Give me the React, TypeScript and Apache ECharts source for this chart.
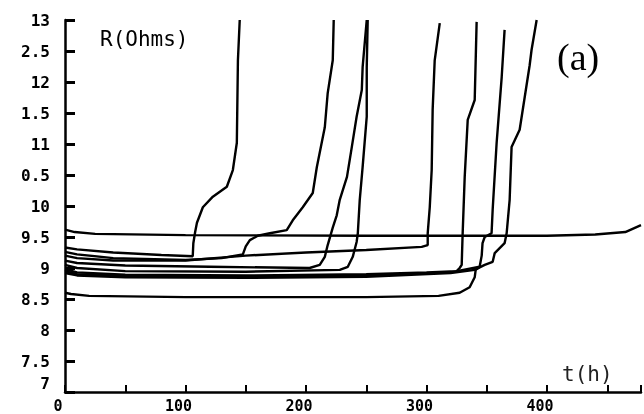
import React, { useEffect, useRef } from "react";
import * as echarts from "echarts";

// Tick values and the labels as printed in the figure (leading digits clipped in the original)
const yTickValues = [7, 7.5, 8, 8.5, 9, 9.5, 10, 10.5, 11, 11.5, 12, 12.5, 13];
const yTickLabels = ["7", "7.5", "8", "8.5", "9", "9.5", "10", "0.5", "11", "1.5", "12", "2.5", "13"];
const xTickLabels = ["0", "100", "200", "300", "400"];

// Resistance R (Ohms) vs time t (h), traced curves: [t, R]
const curveH = [[0, 9.62], [8, 9.58], [25, 9.55], [100, 9.53], [250, 9.52], [400, 9.52], [440, 9.54], [465, 9.58], [478, 9.69]];
const curveA = [[0, 9.33], [10, 9.3], [40, 9.25], [80, 9.21], [106, 9.19], [106.5, 9.4], [108, 9.58], [109.5, 9.73], [114.4, 9.98], [122.7, 10.15], [134.3, 10.31], [139.3, 10.58], [142.6, 11.02], [143.5, 12.35], [145, 13]];
const curveB = [[0, 9.26], [10, 9.22], [40, 9.16], [100, 9.13], [130, 9.16], [147.6, 9.22], [150, 9.35], [153.4, 9.45], [160, 9.52], [170, 9.56], [184, 9.61], [189, 9.77], [197.3, 9.98], [205.6, 10.21], [209, 10.63], [215.6, 11.27], [218, 11.82], [222.2, 12.35], [223, 13]];
const curveC1 = [[0, 9.12], [10, 9.08], [50, 9.04], [120, 9.02], [203, 9.0], [211.4, 9.05], [215.6, 9.18], [218, 9.37], [222.2, 9.65], [225.5, 9.85], [228, 10.1], [234, 10.47], [238, 10.95], [242, 11.44], [246.3, 11.87], [247, 12.24], [250.4, 13]];
const curveC2 = [[0, 9.05], [10, 9.0], [50, 8.95], [150, 8.94], [228, 8.97], [234.7, 9.02], [238.8, 9.18], [242, 9.42], [243, 9.56], [244.6, 10.1], [247, 10.63], [250.4, 11.44], [250.4, 12.24], [251.2, 13]];
const curveD = [[0, 9.2], [10, 9.16], [40, 9.12], [100, 9.12], [150, 9.2], [200, 9.25], [250, 9.29], [296, 9.34], [301, 9.37], [301, 9.56], [302.7, 9.98], [304.3, 10.58], [305.1, 11.55], [306.8, 12.35], [311, 12.95]];
const curveE = [[0, 8.98], [10, 8.93], [50, 8.89], [150, 8.88], [250, 8.9], [300, 8.93], [325, 8.95], [327.5, 9.0], [329.2, 9.05], [330, 9.56], [331.7, 10.47], [334.2, 11.39], [340, 11.71], [341.6, 12.97]];
const curveF = [[0, 8.95], [10, 8.9], [50, 8.87], [150, 8.86], [250, 8.88], [320, 8.93], [344.1, 9.02], [345.8, 9.2], [346.5, 9.4], [348.3, 9.5], [354, 9.56], [354.9, 9.94], [358.2, 11.02], [362.4, 12.08], [364.8, 12.84]];
const curveG = [[0, 8.92], [10, 8.88], [50, 8.85], [150, 8.84], [250, 8.86], [320, 8.92], [340, 8.97], [348.3, 9.05], [354.9, 9.1], [356.6, 9.24], [364.8, 9.4], [366.5, 9.56], [369, 10.1], [370.6, 10.95], [377.3, 11.23], [385.6, 12.27], [387.2, 12.52], [391.4, 13]];
const curveI = [[0, 8.6], [5, 8.58], [20, 8.55], [100, 8.53], [250, 8.53], [310, 8.55], [327.5, 8.6], [335.8, 8.69], [340, 8.85], [340.8, 8.97], [344, 9.02]];

const curves = [curveH, curveA, curveB, curveC1, curveC2, curveD, curveE, curveF, curveG, curveI];

const MONO = "DejaVu Sans Mono";

export default function App() {
  const ref = useRef<HTMLDivElement>(null);
  useEffect(() => {
    const chart = echarts.init(ref.current!, null, { renderer: "svg" });
    chart.setOption({
      animation: false,
      grid: { left: 65, top: 20, right: 2, bottom: 22 },
      xAxis: {
        type: "value",
        min: 0,
        max: 478,
        interval: 50,
        axisLine: { show: true, lineStyle: { color: "#000", width: 2.5 } },
        axisTick: { show: true, inside: true, length: 7, lineStyle: { color: "#000", width: 2 } },
        splitLine: { show: false },
        axisLabel: {
          formatter: (v: number) => (v % 100 === 0 ? xTickLabels[v / 100] ?? "" : ""),
          color: "#000",
          fontFamily: MONO,
          fontWeight: "bold",
          fontSize: 15,
          margin: 6,
          padding: [0, 14, 0, 0],
        },
      },
      yAxis: {
        type: "value",
        min: 7,
        max: 13,
        interval: 0.5,
        axisLine: { show: true, lineStyle: { color: "#000", width: 2.5 } },
        axisTick: { show: true, inside: true, length: 10, lineStyle: { color: "#000", width: 3 } },
        splitLine: { show: false },
        axisLabel: {
          formatter: (v: number) => {
            const i = yTickValues.findIndex((t) => Math.abs(t - v) < 1e-6);
            const s = i >= 0 ? yTickLabels[i] : "";
            return i === 0 ? "{up|" + s + "}" : s;
          },
          color: "#000",
          fontFamily: MONO,
          fontWeight: "bold",
          fontSize: 16,
          margin: 15,
          rich: {
            up: { color: "#000", fontFamily: MONO, fontWeight: "bold", fontSize: 16, padding: [0, 0, 18, 0] },
          },
        },
      },
      series: curves.map((c, i) => ({
        type: "line",
        name: "curve" + i,
        data: c,
        symbol: "none",
        showSymbol: false,
        silent: true,
        lineStyle: { color: "#000", width: 2.4 },
      })),
      graphic: [
        { type: "text", left: 100, top: 28, style: { text: "R(Ohms)", fontFamily: MONO, fontSize: 21, fill: "#000" } },
        { type: "text", left: 557, top: 38, style: { text: "(a)", fontFamily: "Liberation Serif", fontSize: 38, fill: "#000" } },
        { type: "text", left: 562, top: 363, style: { text: "t(h)", fontFamily: MONO, fontSize: 21, fill: "#222" } },
      ],
    });
    return () => chart.dispose();
  }, []);
  return <div ref={ref} style={{ position: "fixed", left: 0, top: 0, width: 644, height: 414 }} />;
}
